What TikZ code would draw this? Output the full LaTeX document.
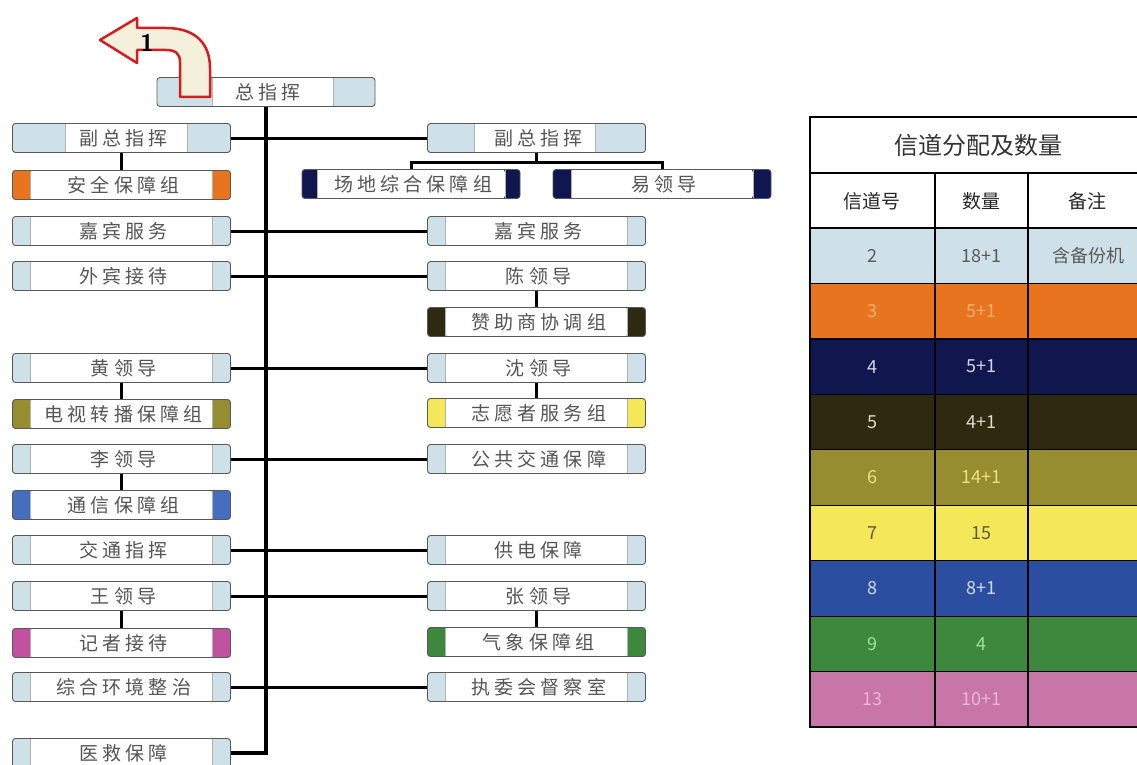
\documentclass[tikz,border=0pt]{standalone}
\usepackage{fontspec}
\newfontfamily\cjk{Noto Sans CJK SC}
\newfontfamily\cjkbox[LetterSpace=22]{Noto Sans CJK SC}
\usetikzlibrary{calc}
\definecolor{capblue}{RGB}{207,225,232}
\definecolor{orangec}{RGB}{232,116,32}
\definecolor{navyc}{RGB}{16,22,78}
\definecolor{darkol}{RGB}{46,42,18}
\definecolor{olivec}{RGB}{150,140,48}
\definecolor{yellowc}{RGB}{245,232,88}
\definecolor{bluec}{RGB}{44,78,160}
\definecolor{bluecap}{RGB}{70,110,190}
\definecolor{greenc}{RGB}{62,136,62}
\definecolor{pinkc}{RGB}{200,118,168}
\definecolor{magc}{RGB}{192,82,160}
\definecolor{cream}{RGB}{244,240,220}
\definecolor{arrowred}{RGB}{210,30,30}
\definecolor{boxtxt}{RGB}{85,85,85}
\definecolor{t2}{RGB}{90,90,90}
\definecolor{t3}{RGB}{250,178,110}
\definecolor{t4}{RGB}{215,215,228}
\definecolor{t5}{RGB}{220,220,200}
\definecolor{t6}{RGB}{236,226,130}
\definecolor{t7}{RGB}{90,90,70}
\definecolor{t8}{RGB}{210,220,245}
\definecolor{t9}{RGB}{160,225,150}
\definecolor{t13}{RGB}{236,182,216}
\def\mycapl{17pt}
\def\mycapr{17pt}
\begin{document}
\begin{tikzpicture}[x=1pt,y=-1pt,
  capl/.code={\def\mycapl{#1}},
  capr/.code={\def\mycapr{#1}},
  capw/.style={capl=#1,capr=#1},
  cbox/.style={draw=gray!70!black, line width=0.9pt, rounded corners=3pt,
    minimum width=218pt, minimum height=29pt, inner sep=0pt, fill=#1,
    font=\cjkbox\fontsize{19}{19}\selectfont, text=boxtxt, capw=18pt,
    execute at begin node={\hspace*{4.2pt}},
    path picture={
      \fill[white] ([xshift=\mycapl]path picture bounding box.south west) rectangle ([xshift=-\mycapr]path picture bounding box.north east);
      \draw[gray!60, line width=0.6pt]
        ([xshift=\mycapl]path picture bounding box.south west) -- ([xshift=\mycapl]path picture bounding box.north west)
        ([xshift=-\mycapr]path picture bounding box.south east) -- ([xshift=-\mycapr]path picture bounding box.north east);}},
  trunk/.style={line width=3.5pt, black},
  link/.style={line width=3pt, black},
  tcell/.style={font=\cjk\fontsize{18}{18}\selectfont, inner sep=0pt},
  thead/.style={font=\cjk\fontsize{19}{19}\selectfont, inner sep=0pt, text=black!85},
  tgrid/.style={line width=1.2pt, black}
]
\useasboundingbox (0,0) rectangle (1137,765);

% ---- boxes ----
\node[cbox=capblue, capl=55pt, capr=42pt] (zong) at (266,92) {总指挥};

\node[cbox=capblue, capl=53pt, capr=43pt] (L1) at (121.5,138) {副总指挥};
\node[cbox=orangec] (L2) at (121.5,185) {安全保障组};
\node[cbox=capblue] (L3) at (121.5,231) {嘉宾服务};
\node[cbox=capblue] (L4) at (121.5,276) {外宾接待};
\node[cbox=capblue] (L5) at (121.5,368) {黄领导};
\node[cbox=olivec] (L6) at (121.5,414) {电视转播保障组};
\node[cbox=capblue] (L7) at (121.5,459) {李领导};
\node[cbox=bluecap] (L8) at (121.5,505) {通信保障组};
\node[cbox=capblue] (L9) at (121.5,550) {交通指挥};
\node[cbox=capblue] (L10) at (121.5,596) {王领导};
\node[cbox=magc] (L11) at (121.5,643) {记者接待};
\node[cbox=capblue] (L12) at (121.5,687) {综合环境整治};
\node[cbox=capblue] (L13) at (121.5,753) {医救保障};

\node[cbox=capblue, capl=47pt, capr=50pt] (R1) at (536.5,138) {副总指挥};
\node[cbox=navyc, capw=15pt] (R1a) at (411,184) {场地综合保障组};
\node[cbox=navyc, capw=18pt] (R1b) at (662,184) {易领导};
\node[cbox=capblue] (R2) at (536.5,231) {嘉宾服务};
\node[cbox=capblue] (R3) at (536.5,276) {陈领导};
\node[cbox=darkol] (R4) at (536.5,322) {赞助商协调组};
\node[cbox=capblue] (R5) at (536.5,368) {沈领导};
\node[cbox=yellowc] (R6) at (536.5,413) {志愿者服务组};
\node[cbox=capblue] (R7) at (536.5,459) {公共交通保障};
\node[cbox=capblue] (R8) at (536.5,550) {供电保障};
\node[cbox=capblue] (R9) at (536.5,596) {张领导};
\node[cbox=greenc] (R10) at (536.5,642) {气象保障组};
\node[cbox=capblue] (R11) at (536.5,687) {执委会督察室};

% ---- connectors ----
\draw[trunk] (zong.south) |- (L13.east);
\draw[link] (L1.east) -- (R1.west);
\draw[link] (L3.east) -- (R2.west);
\draw[link] (L4.east) -- (R3.west);
\draw[link] (L5.east) -- (R5.west);
\draw[link] (L7.east) -- (R7.west);
\draw[link] (L9.east) -- (R8.west);
\draw[link] (L10.east) -- (R9.west);
\draw[link] (L12.east) -- (R11.west);

\draw[link] (L1.south) -- (L2.north);
\draw[link] (L5.south) -- (L6.north);
\draw[link] (L7.south) -- (L8.north);
\draw[link] (L10.south) -- (L11.north);
\draw[link] (R3.south) -- (R4.north);
\draw[link] (R5.south) -- (R6.north);
\draw[link] (R9.south) -- (R10.north);

\coordinate (fk) at (536.5,162);
\draw[link] (R1.south) -- (fk);
\draw[link] (R1a.north) |- (fk) -| (R1b.north);

% ---- curved arrow ----
\draw[fill=cream, draw=arrowred, line width=2.5pt, line join=round]
  (180,97) -- (180,62) .. controls (180,54) and (176,50) .. (166,50)
  -- (137,50) -- (137,63) -- (100,40) -- (137,18) -- (137,28) -- (166,28)
  .. controls (196,28) and (210,44) .. (210,68) -- (210,97) -- cycle;
\node[font=\sffamily\bfseries\fontsize{24}{24}\selectfont, inner sep=0pt] (one) at (147,43) {1};

% ---- table ----
\begin{scope}
\clip (0,0) rectangle (1137,765);
\fill[white] (810,117) rectangle (1146,228);
\foreach \i/\fc in {0/capblue,1/orangec,2/navyc,3/darkol,4/olivec,5/yellowc,6/bluec,7/greenc,8/pinkc}{
  \fill[\fc] (810,{228+55.44*\i}) rectangle (1146,{228+55.44*(\i+1)});
}
\foreach \y in {173,228,283.4,338.9,394.3,449.8,505.2,560.6,616.1,671.5}{
  \draw[tgrid] (810,\y) -- (1146,\y);
}
\draw[tgrid] (935,173) -- (935,727) (1028,173) -- (1028,727);
\draw[line width=2pt, black] (810,727) -- (810,117) -- (1146,117) -- (1146,727) -- cycle;

\node[font=\cjk\fontsize{24}{24}\selectfont, inner sep=0pt, text=black!80] (ttl) at (978,145) {信道分配及数量};
\node[thead] (h1) at (872,201) {信道号};
\node[thead] (h2) at (981,201) {数量};
\node[thead] (h3) at (1087,201) {备注};
\foreach \i/\ch/\num/\tc in {0/2/18+1/t2,1/3/5+1/t3,2/4/5+1/t4,3/5/4+1/t5,4/6/14+1/t6,5/7/15/t7,6/8/8+1/t8,7/9/4/t9,8/13/10+1/t13}{
  \node[tcell, text=\tc] (c\i) at (872,{255.7+55.44*\i}) {\ch};
  \node[tcell, text=\tc] (n\i) at (981,{255.7+55.44*\i}) {\num};
}
\node[tcell, text=t2] (bk) at (1088,255.7) {含备份机};
\end{scope}
\end{tikzpicture}
\end{document}
